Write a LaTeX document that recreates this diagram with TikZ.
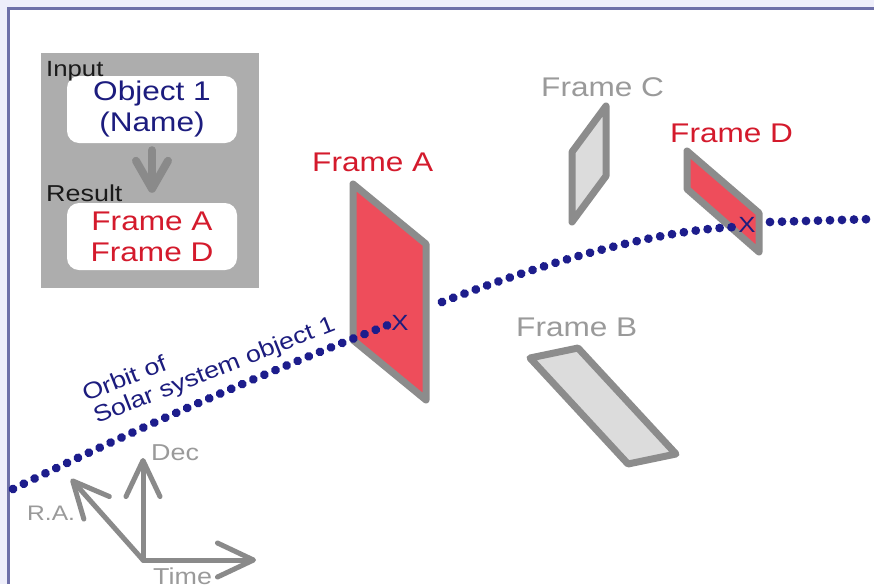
\documentclass[tikz,border=0pt]{standalone}
\usepackage{fontspec}
\setmainfont{Liberation Sans}[FakeStretch=1.17]
\usetikzlibrary{arrows.meta,decorations.markings}
\definecolor{lav}{HTML}{EEEEFA}
\definecolor{bord}{HTML}{6E70A8}
\definecolor{boxgray}{HTML}{ADADAD}
\definecolor{arrgray}{HTML}{8A8A8A}
\definecolor{navy}{HTML}{1C1C7E}
\definecolor{dotblue}{HTML}{1D1D8C}
\definecolor{redtxt}{HTML}{D41A2C}
\definecolor{redfill}{HTML}{EE4D5B}
\definecolor{lgfill}{HTML}{DCDCDC}
\definecolor{frgray}{HTML}{8C8C8C}
\definecolor{lbl}{HTML}{9A9A9A}
\definecolor{blk}{HTML}{1A1A1A}
\tikzset{
  framebox/.style={draw=frgray, line width=7pt, line join=round},
  redframe/.style={framebox, fill=redfill},
  grayframe/.style={framebox, fill=lgfill},
  orbit/.style={decoration={markings, mark=between positions 0 and 1 step 12pt with {\fill[dotblue] (0pt,0pt) circle (4.4pt);}}, decorate},
  framelab/.style={font=\fontsize{27}{30}\selectfont, inner sep=0pt, anchor=base west},
  whitebox/.style={fill=white, rounded corners=12pt, minimum width=170pt, minimum height=67pt, inner sep=0pt, align=center, font=\fontsize{27}{31}\selectfont},
  panlab/.style={font=\fontsize{22}{24}\selectfont, text=blk, inner sep=0pt, anchor=base west},
  axlab/.style={font=\fontsize{23}{26}\selectfont, text=lbl, inner sep=0pt, anchor=base west},
  orblab/.style={font=\fontsize{23}{26}\selectfont, text=navy, inner sep=0pt, anchor=base west, rotate=21.5},
  xmark/.style={font=\fontsize{22}{22}\selectfont, text=navy, inner sep=0pt},
  axisline/.style={draw=arrgray, line width=5pt, line cap=round, line join=round, -{Straight Barb[length=36pt,width=34pt,round]}},
  boxarrow/.style={draw=arrgray, line width=8pt, line cap=round, -{Straight Barb[length=28pt,width=32pt,round]}}
}
\begin{document}
\begin{tikzpicture}[x=1pt,y=-1pt]
\useasboundingbox (0,0) rectangle (874,584);
\fill[lav] (0,0) rectangle (874,584);
\fill[white] (8.5,8.5) rectangle (874,584);
\draw[bord, line width=2.5pt] (8.5,584) -- (8.5,8.5) -- (874,8.5);

% result panel
\node[fill=boxgray, minimum width=218pt, minimum height=235pt, inner sep=0pt] (panel) at (150,170.5) {};
\node[whitebox, text=navy] (obj) at (152,109.5) {Object 1\\(Name)};
\node[whitebox, text=redtxt] (res) at (152,236.5) {Frame A\\Frame D};
\node[panlab] (inp) at (46,76) {Input};
\node[panlab, font=\fontsize{23}{25}\selectfont] (rsl) at (46,201) {Result};
\draw[boxarrow, shorten <=7pt, shorten >=10pt] (obj) -- (res);

% frames
\draw[redframe] (353,184) -- (426,244) -- (426,400) -- (353,340) -- cycle;
\draw[grayframe] (572,152) -- (606,106) -- (606,176) -- (572,222) -- cycle;
\draw[redframe] (687,151) -- (759,213) -- (759,252) -- (687,189) -- cycle;
\draw[grayframe] (530,358) -- (578,348) -- (676,454) -- (628,464) -- cycle;

\node[framelab, text=redtxt] (fA) at (312,171) {Frame A};
\node[framelab, text=lbl] (fC) at (541,96) {Frame C};
\node[framelab, text=redtxt] (fD) at (670,142) {Frame D};
\node[framelab, text=lbl] (fB) at (516,336) {Frame B};

% orbit
\coordinate (s1) at (13,489);
\coordinate (e1) at (388,325);
\coordinate (s2) at (442,302);
\coordinate (e2) at (735,227);
\coordinate (s3) at (770,222);
\coordinate (e3) at (874,219);
\path[orbit] (s1) .. controls (138.3,427.7) and (263.3,373) .. (e1);
\path[orbit] (s2) .. controls (564.7,255.3) and (662.3,230.3) .. (e2);
\path[orbit] (s3) -- (e3);
\node[xmark] (xA) at (400,323) {X};
\node[xmark] (xD) at (747,225) {X};

\node[orblab] (orb1) at (86,402) {Orbit of};
\node[orblab] (orb2) at (97,424) {Solar system object 1};

% axes
\coordinate (O) at (143,560);
\coordinate (dec) at (143,458);
\coordinate (tim) at (256,560);
\coordinate (ra) at (71,479);
\draw[axisline] (O) -- (dec);
\draw[axisline] (O) -- (tim);
\draw[axisline] (O) -- (ra);
\node[axlab] (declab) at (151,460) {Dec};
\node[axlab, font=\fontsize{21}{24}\selectfont] (ralab) at (27,520) {R.A.};
\node[axlab] (timlab) at (153,584) {Time};
\end{tikzpicture}
\end{document}
